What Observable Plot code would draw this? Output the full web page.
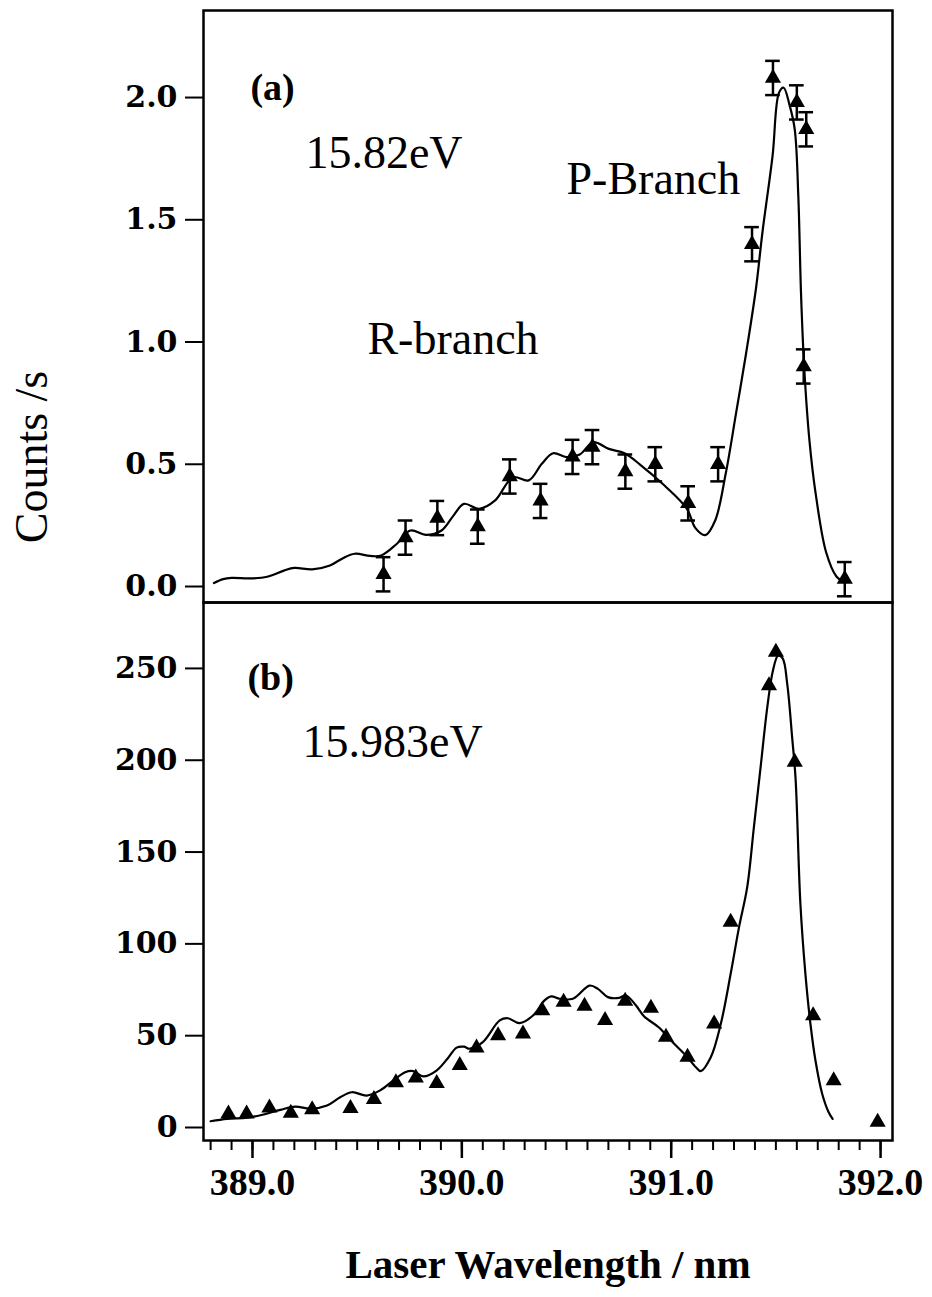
<!DOCTYPE html>
<html>
<head>
<meta charset="utf-8">
<script src="https://cdn.jsdelivr.net/npm/d3@7"></script>
<script src="https://cdn.jsdelivr.net/npm/@observablehq/plot@0.6"></script>
<style>
  html, body { margin: 0; padding: 0; background: #fff; }
  #wrap { position: relative; width: 932px; height: 1297px; overflow: hidden; background: #fff; }
  #top, #bot { position: absolute; left: 0; }
  #top { top: 0; }
  #bot { top: 602px; }
  #ylab { position: absolute; left: 31px; top: 457px; transform: translate(-50%, -50%) rotate(-90deg);
          font-family: "Liberation Serif", serif; font-size: 46px; white-space: nowrap; color: #000; }
</style>
</head>
<body>
<div id="wrap">
  <div id="top"></div>
  <div id="bot"></div>
  <div id="ylab">Counts /s</div>
</div>
<script>
// ---------- Panel (a): 15.82 eV ----------
const aWavelength = [389.626, 389.731, 389.883, 390.076, 390.229, 390.376, 390.529, 390.624, 390.781,
                     390.924, 391.081, 391.224, 391.386, 391.486, 391.600, 391.645, 391.633, 391.829];
const aCounts     = [0.05, 0.20, 0.28, 0.245, 0.45, 0.35, 0.53, 0.57, 0.47,
                     0.50, 0.34, 0.50, 1.40, 2.08, 1.98, 1.87, 0.90, 0.03];
const aError      = [0.07, 0.07, 0.07, 0.07, 0.07, 0.07, 0.07, 0.07, 0.07,
                     0.07, 0.07, 0.07, 0.07, 0.07, 0.07, 0.07, 0.07, 0.07];

const aFitWavelength = [388.816, 388.86, 388.90, 388.99, 389.07, 389.15, 389.20, 389.285, 389.37, 389.43,
                        389.488, 389.562, 389.615, 389.69, 389.754, 389.829, 389.903, 389.96, 390.01, 390.084,
                        390.159, 390.244, 390.319, 390.382, 390.436, 390.50, 390.563, 390.627, 390.702, 390.777,
                        390.851, 390.968, 391.075, 391.115, 391.163, 391.21, 391.26, 391.31, 391.357, 391.405,
                        391.436, 391.484, 391.515, 391.537, 391.565, 391.59, 391.607, 391.62, 391.635, 391.66,
                        391.69, 391.74, 391.79, 391.831];
const aFitCounts     = [0.014, 0.03, 0.035, 0.033, 0.04, 0.065, 0.076, 0.07, 0.086, 0.115,
                        0.134, 0.125, 0.127, 0.175, 0.229, 0.211, 0.229, 0.29, 0.338, 0.318,
                        0.352, 0.447, 0.434, 0.502, 0.545, 0.529, 0.54, 0.59, 0.563, 0.545,
                        0.499, 0.413, 0.318, 0.24, 0.21, 0.27, 0.46, 0.71, 0.95, 1.22,
                        1.45, 1.76, 2.02, 2.04, 1.97, 1.87, 1.60, 1.20, 0.90, 0.60,
                        0.38, 0.14, 0.04, 0.015];

// ---------- Panel (b): 15.983 eV ----------
const bWavelength = [388.885, 388.972, 389.081, 389.183, 389.285, 389.468, 389.580, 389.685, 389.780, 389.880,
                     389.990, 390.070, 390.173, 390.292, 390.384, 390.486, 390.586, 390.684, 390.780, 390.903,
                     390.975, 391.078, 391.205, 391.284, 391.467, 391.500, 391.590, 391.678, 391.776, 391.986];
const bCounts     = [7.5, 7.5, 10.7, 7.8, 9.8, 10.5, 15.4, 24.5, 27.1, 24.1,
                     33.8, 43.4, 50.1, 51, 63.7, 68.3, 66.1, 58.3, 68.8, 65,
                     49.2, 38.3, 56.5, 111.8, 240.7, 258.9, 199, 61, 25.6, 2.9];

const bFitWavelength = [388.80, 388.879, 388.975, 389.054, 389.133, 389.205, 389.276, 389.356, 389.419, 389.475,
                        389.546, 389.61, 389.673, 389.729, 389.768, 389.816, 389.879, 389.935, 389.975, 390.01,
                        390.038, 390.10, 390.181, 390.22, 390.276, 390.34, 390.395, 390.427, 390.467, 390.53,
                        390.61, 390.65, 390.697, 390.752, 390.784, 390.832, 390.871, 390.943, 391.006, 391.07,
                        391.118, 391.141, 391.189, 391.237, 391.284, 391.324, 391.363, 391.395, 391.427, 391.459,
                        391.486, 391.511, 391.533, 391.554, 391.578, 391.594, 391.617, 391.641, 391.665, 391.689,
                        391.721, 391.752, 391.771];
const bFitCounts     = [3.4, 4.7, 5.3, 7.1, 9.6, 11.4, 10.2, 12, 16.5, 19.2,
                        17.4, 20.2, 25.6, 30.1, 30.7, 27.8, 31, 38, 43.5, 44,
                        42.9, 46.5, 58.3, 59.5, 56.8, 61, 69.2, 71.4, 70.1, 70.1,
                        77.3, 75.5, 71, 70.6, 71.9, 66.4, 60.5, 54.3, 46.5, 39.2,
                        32.8, 30.7, 38.3, 56.5, 83.7, 109.1, 130.9, 163.6, 196.2, 228.9,
                        248.9, 257, 255.3, 241.7, 212, 190, 122, 83.7, 56.5, 36.5,
                        18.4, 8.3, 4.7];

// ---------- Axes / labels ----------
const xMajorTicks = [389, 390, 391, 392];
const xMinorTicks = d3.range(388.8, 392.05, 0.1).map(v => +v.toFixed(1));
const aYTicks = [0, 0.5, 1.0, 1.5, 2.0];
const bYTicks = [0, 50, 100, 150, 200, 250];
const xLabel = "Laser Wavelength / nm";

const aNotes = [
  {text: "(a)", x: 388.99, y: 1.99, bold: true},
  {text: "15.82eV", x: 389.253, y: 1.71, bold: false},
  {text: "P-Branch", x: 390.50, y: 1.607, bold: false},
  {text: "R-branch", x: 389.549, y: 0.953, bold: false}
];
const bNotes = [
  {text: "(b)", x: 388.976, y: 238, bold: true},
  {text: "15.983eV", x: 389.239, y: 201.5, bold: false}
];

// ---------- Build tables ----------
const aPoints = aWavelength.map((x, i) => ({x, y: aCounts[i], e: aError[i]}));
const aFit = aFitWavelength.map((x, i) => ({x, y: aFitCounts[i]}));
const bPoints = bWavelength.map((x, i) => ({x, y: bCounts[i]}));
const bFit = bFitWavelength.map((x, i) => ({x, y: bFitCounts[i]}));

const xDomain = [388.766, 392.057];
const capHalf = 0.035;
const serif = "Liberation Serif, Times New Roman, serif";
const tickFont = "DejaVu Serif, serif";

const common = {
  width: 932,
  marginLeft: 203,
  marginRight: 40,
  style: {background: "transparent", overflow: "visible", color: "#000"}
};

function noteMarks(notes) {
  return [
    Plot.text(notes.filter(d => d.bold), {x: "x", y: "y", text: "text", textAnchor: "start", lineAnchor: "bottom",
      fontFamily: serif, fontWeight: "bold", fontSize: 38, fill: "#000"}),
    Plot.text(notes.filter(d => !d.bold), {x: "x", y: "y", text: "text", textAnchor: "start", lineAnchor: "bottom",
      fontFamily: serif, fontSize: 46, fill: "#000"})
  ];
}

const topPlot = Plot.plot({
  ...common,
  height: 602,
  marginTop: 10,
  marginBottom: 0,
  x: {domain: xDomain, axis: null},
  y: {domain: [-0.0654, 2.356], axis: null},
  marks: [
    Plot.axisY(aYTicks, {anchor: "left", tickSize: 18, tickPadding: 8, strokeWidth: 2,
      tickFormat: d => d.toFixed(1), fontFamily: tickFont, fontWeight: "bold", fontSize: 30, label: null}),
    Plot.frame({stroke: "#000", strokeWidth: 2.5}),
    Plot.line(aFit, {x: "x", y: "y", curve: "catmull-rom", stroke: "#000", strokeWidth: 2.2}),
    Plot.ruleX(aPoints, {x: "x", y1: d => d.y - d.e, y2: d => d.y + d.e, stroke: "#000", strokeWidth: 2.5}),
    Plot.ruleY(aPoints, {y: d => d.y + d.e, x1: d => d.x - capHalf, x2: d => d.x + capHalf, stroke: "#000", strokeWidth: 2.5}),
    Plot.ruleY(aPoints, {y: d => d.y - d.e, x1: d => d.x - capHalf, x2: d => d.x + capHalf, stroke: "#000", strokeWidth: 2.5}),
    Plot.dot(aPoints, {x: "x", y: "y", symbol: "triangle", r: 6, fill: "#000", stroke: "none"}),
    ...noteMarks(aNotes)
  ]
});

const botPlot = Plot.plot({
  ...common,
  height: 695,
  marginTop: 0,
  marginBottom: 157,
  x: {domain: xDomain, axis: null},
  y: {domain: [-7.08, 285.9], axis: null},
  marks: [
    Plot.axisY(bYTicks, {anchor: "left", tickSize: 18, tickPadding: 8, strokeWidth: 2,
      tickFormat: d => String(d), fontFamily: tickFont, fontWeight: "bold", fontSize: 30, label: null}),
    Plot.axisX(xMinorTicks, {anchor: "bottom", tickSize: 10, strokeWidth: 2, tickFormat: () => "", label: null}),
    Plot.axisX(xMajorTicks, {anchor: "bottom", tickSize: 18, tickPadding: 10, strokeWidth: 2.5,
      tickFormat: d => d.toFixed(1), fontFamily: serif, fontWeight: "bold", fontSize: 38, label: null}),
    Plot.frame({stroke: "#000", strokeWidth: 2.5}),
    Plot.line(bFit, {x: "x", y: "y", curve: "catmull-rom", stroke: "#000", strokeWidth: 2.2}),
    Plot.dot(bPoints, {x: "x", y: "y", symbol: "triangle", r: 6, fill: "#000", stroke: "none"}),
    ...noteMarks(bNotes),
    Plot.text([xLabel], {frameAnchor: "bottom", dy: 137, text: d => d, lineAnchor: "bottom",
      fontFamily: serif, fontWeight: "bold", fontSize: 41, fill: "#000"})
  ]
});

document.getElementById("top").appendChild(topPlot);
document.getElementById("bot").appendChild(botPlot);
</script>
</body>
</html>
